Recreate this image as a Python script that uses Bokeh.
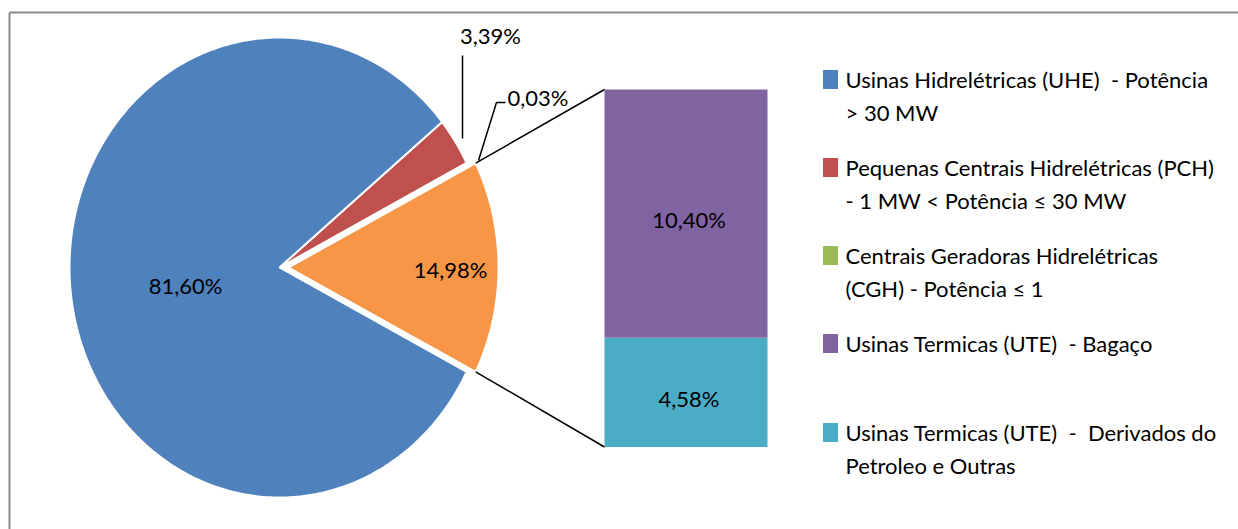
import numpy as np
from bokeh.plotting import figure
from bokeh.models import Range1d
from bokeh.core.properties import value
from bokeh.embed import file_html
from bokeh.resources import INLINE

# ---------------- data ----------------
pie_names = ["UTE (total)", "CGH", "PCH", "UHE"]          # counter-clockwise from the right
pie_values = [14.98, 0.03, 3.39, 81.60]
pie_colors = ["#F79646", "#9BBB59", "#C0504D", "#4F81BD"]

bar_names = ["UTE - Derivados do Petroleo e Outras", "UTE - Bagaço"]   # bottom to top
bar_values = [4.58, 10.40]
bar_colors = ["#4BACC6", "#8064A2"]

NB = "\u00a0"
legend_colors = ["#4F81BD", "#C0504D", "#9BBB59", "#8064A2", "#4BACC6"]
legend_lines = [
    ["Usinas Hidrelétricas (UHE)" + NB + " - Potência", ">" + NB + "30 MW"],
    ["Pequenas Centrais Hidrelétricas (PCH)", "- 1 MW < Potência ≤ 30 MW"],
    ["Centrais Geradoras Hidrelétricas", "(CGH) - Potência ≤ 1"],
    ["Usinas Termicas (UTE)" + NB + " - Bagaço"],
    ["Usinas Termicas (UTE)" + NB + " - " + NB + "Derivados do", "Petroleo e Outras"],
]

def fmt(v):
    return f"{v:.2f}%".replace(".", ",")

W, H = 1238, 529
FONT = value("Lato")
FS = "22px"

p = figure(width=W, height=H, x_range=Range1d(0, W), y_range=Range1d(H, 0),
           output_backend="svg", toolbar_location=None, min_border=0)
p.axis.visible = False
p.grid.visible = False
p.outline_line_color = None
p.background_fill_color = "white"
p.border_fill_color = "white"

# chart border (top and left visible)
p.line([9, W], [12, 12], line_color="#8a8a8a", line_width=2)
p.line([9, 9], [12, H], line_color="#8a8a8a", line_width=2)

# ---------------- pie (elliptical) ----------------
cx, cy, rx, ry = 279.0, 267.0, 210.0, 230.0
explode = 9.0
total = sum(pie_values)
fracs = np.array(pie_values) / total
start = -fracs[0] * np.pi
bounds = start + np.concatenate([[0], np.cumsum(fracs)]) * 2 * np.pi

xs_all, ys_all = [], []
for i in range(len(pie_values)):
    a0, a1 = bounds[i], bounds[i + 1]
    n = max(3, int(abs(a1 - a0) / (2 * np.pi) * 400))
    t = np.linspace(a0, a1, n)
    mid = (a0 + a1) / 2
    off = explode if i == 0 else 0.0
    ax = cx + off * np.cos(mid)
    ay = cy - off * np.sin(mid)
    xs_all.append(np.concatenate([[ax], ax + rx * np.cos(t), [ax]]))
    ys_all.append(np.concatenate([[ay], ay - ry * np.sin(t), [ay]]))

p.patches(xs_all, ys_all, fill_color=pie_colors, line_color="white", line_width=2)

# pie labels
p.text([185], [285], text=[fmt(pie_values[3])], text_align="center", text_baseline="middle",
       text_font=FONT, text_font_size=FS, text_color="black")
p.text([450], [269], text=[fmt(pie_values[0])], text_align="center", text_baseline="middle",
       text_font=FONT, text_font_size=FS, text_color="black")
p.text([490], [35], text=[fmt(pie_values[2])], text_align="center", text_baseline="middle",
       text_font=FONT, text_font_size=FS, text_color="black")
p.text([507], [97], text=[fmt(pie_values[1])], text_align="left", text_baseline="middle",
       text_font=FONT, text_font_size=FS, text_color="black")

# leader lines
p.line([462, 462], [55, 138], line_color="black", line_width=1.5)
p.line([478, 496, 505], [160, 102, 102], line_color="black", line_width=1.5)

# ---------------- bar of pie ----------------
bar_top_px, bar_bot_px = 89.0, 446.5
bar_total = sum(bar_values)
scale = (bar_bot_px - bar_top_px) / bar_total
p.extra_y_ranges = {"bar": Range1d(start=(bar_bot_px - H) / scale, end=bar_bot_px / scale)}

bar_x, bar_w = 685.5, 163
bottoms = np.concatenate([[0], np.cumsum(bar_values)[:-1]])
tops = np.cumsum(bar_values)
p.vbar(x=[bar_x] * len(bar_values), width=bar_w, bottom=bottoms, top=tops,
       fill_color=bar_colors, line_color=None, y_range_name="bar")
mids = (bottoms + tops) / 2
p.text([bar_x + 3] * 2, mids, text=[fmt(v) for v in bar_values], text_align="center",
       text_baseline="middle", text_font=FONT, text_font_size=FS, text_color="black",
       y_range_name="bar", y_offset=6)

# connector lines from exploded slice corners to bar
a_top, a_bot = bounds[1], bounds[0]
ax0 = cx + explode
cxt = ax0 + rx * np.cos(a_top); cyt = cy - ry * np.sin(a_top)
cxb = ax0 + rx * np.cos(a_bot); cyb = cy - ry * np.sin(a_bot)
p.line([cxt, bar_x - bar_w / 2], [cyt, bar_top_px], line_color="black", line_width=1.5)
p.line([cxb, bar_x - bar_w / 2], [cyb, bar_bot_px], line_color="black", line_width=1.5)

# ---------------- legend ----------------
leg_y = [79, 167, 255, 343, 432]
line_gap = 33
p.rect(x=[830] * 5, y=leg_y, width=15, height=19, fill_color=legend_colors, line_color=None)
for yy, lines in zip(leg_y, legend_lines):
    for j, s in enumerate(lines):
        p.text([845], [yy + j * line_gap], text=[s], text_align="left", text_baseline="middle",
               text_font=FONT, text_font_size=FS, text_color="black")

open("out.html", "w").write(file_html(p, INLINE))
